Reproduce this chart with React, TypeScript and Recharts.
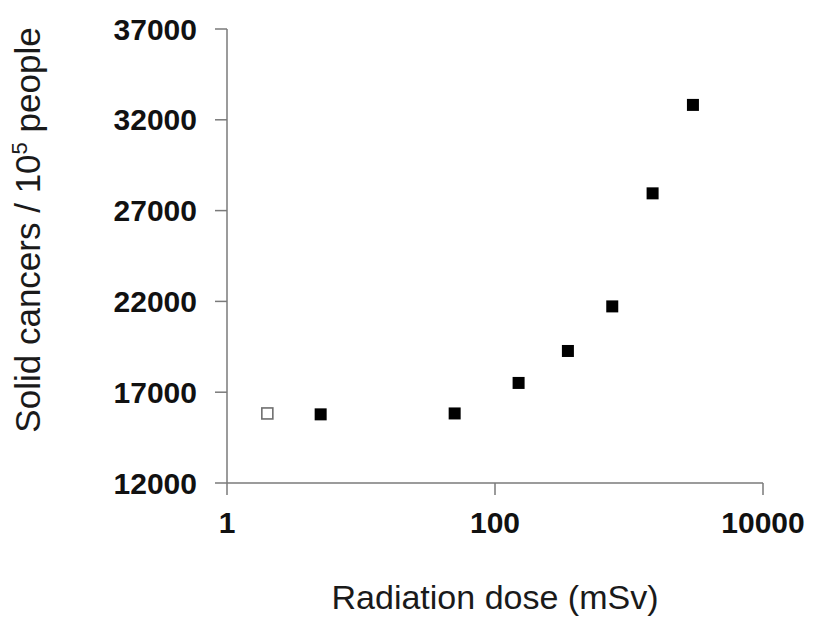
import { ScatterChart, Scatter, XAxis, YAxis } from "recharts";

// Unexposed reference group (open square)
const controlDose = [2];
const controlCancers = [15830];

// Exposed groups (filled squares)
const exposedDose = [5, 50, 150, 350, 750, 1500, 3000];
const exposedCancers = [15780, 15830, 17510, 19270, 21725, 27950, 32820];

const xTicks = [1, 100, 10000];
const yTicks = [12000, 17000, 22000, 27000, 32000, 37000];

const controlData = controlDose.map((d, i) => ({ dose: d, cancers: controlCancers[i] }));
const exposedData = exposedDose.map((d, i) => ({ dose: d, cancers: exposedCancers[i] }));

const FONT = "'Liberation Sans', Arial, sans-serif";
const AXIS = "#7a7a7a";

const FilledSquare = (props: any) => (
  <rect x={props.cx - 6} y={props.cy - 6} width={12} height={12} fill="#000" />
);

const OpenSquare = (props: any) => (
  <rect
    x={props.cx - 5.5}
    y={props.cy - 5.5}
    width={11}
    height={11}
    fill="#fff"
    stroke="#6f6f6f"
    strokeWidth={1.6}
  />
);

const YTitle = () => (
  <text
    x={40}
    y={230}
    transform="rotate(-90, 40, 230)"
    textAnchor="middle"
    fontFamily={FONT}
    fontSize={35}
    fill="#1a1a1a"
  >
    Solid cancers / 10
    <tspan fontSize={22} dy={-13}>5</tspan>
    <tspan dy={13}> people</tspan>
  </text>
);

export default function App() {
  return (
    <div style={{ position: "absolute", left: 0, top: 0, background: "#fff" }}>
      <ScatterChart
        width={813}
        height={618}
        margin={{ top: 29, right: 50, bottom: 0, left: 0 }}
      >
        <XAxis
          type="number"
          dataKey="dose"
          scale="log"
          domain={[1, 10000]}
          ticks={xTicks}
          allowDataOverflow
          height={135}
          stroke={AXIS}
          strokeWidth={1.5}
          tickSize={12}
          tickMargin={17}
          tick={{ fill: "#111", fontFamily: FONT, fontSize: 30, fontWeight: "bold" }}
          label={{
            value: "Radiation dose (mSv)",
            position: "insideBottom",
            offset: 9,
            fill: "#1a1a1a",
            fontFamily: FONT,
            fontSize: 34,
          }}
        />
        <YAxis
          type="number"
          dataKey="cancers"
          domain={[12000, 37000]}
          ticks={yTicks}
          width={227}
          stroke={AXIS}
          strokeWidth={1.5}
          tickSize={12}
          tickMargin={18}
          tick={{ fill: "#111", fontFamily: FONT, fontSize: 30, fontWeight: "bold" }}
          label={{ content: () => <YTitle /> }}
        />
        <Scatter data={controlData} shape={OpenSquare} isAnimationActive={false} />
        <Scatter data={exposedData} shape={FilledSquare} isAnimationActive={false} />
      </ScatterChart>
    </div>
  );
}
